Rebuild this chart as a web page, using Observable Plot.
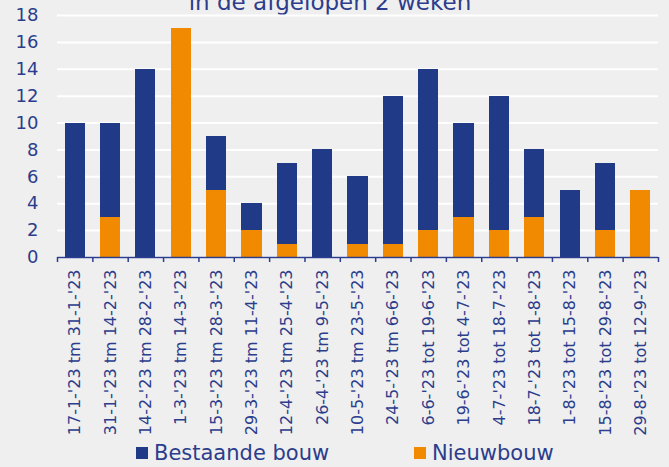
<!DOCTYPE html>
<html>
<head>
<meta charset="utf-8">
<script src="https://cdn.jsdelivr.net/npm/d3@7"></script>
<script src="https://cdn.jsdelivr.net/npm/@observablehq/plot@0.6"></script>
<style>
  html, body { margin: 0; padding: 0; background: #efefef; }
  body { width: 669px; height: 467px; overflow: hidden; position: relative; font-family: "DejaVu Sans", sans-serif; color: #2b3d8c; }
  #title { position: absolute; left: 0; width: 660px; top: -9px; text-align: center; font-size: 23px; line-height: 23px; white-space: nowrap; }
  #chart { position: absolute; left: 0; top: 0; }
  #legend { position: absolute; left: 0; top: 441px; width: 669px; height: 26px; font-size: 21px; line-height: 24px; }
  .item { position: absolute; top: 0; display: flex; align-items: center; gap: 6px; }
  .sw { width: 12px; height: 12px; display: inline-block; }
</style>
</head>
<body>
<div id="title">in de afgelopen 2 weken</div>
<div id="chart"></div>
<div id="legend"></div>
<script>
const categories = [
  "17-1-'23 tm 31-1-'23", "31-1-'23 tm 14-2-'23", "14-2-'23 tm 28-2-'23", "1-3-'23 tm 14-3-'23",
  "15-3-'23 tm 28-3-'23", "29-3-'23 tm 11-4-'23", "12-4-'23 tm 25-4-'23", "26-4-'23 tm 9-5-'23",
  "10-5-'23 tm 23-5-'23", "24-5-'23 tm 6-6-'23", "6-6-'23 tot 19-6-'23", "19-6-'23 tot 4-7-'23",
  "4-7-'23 tot 18-7-'23", "18-7-'23 tot 1-8-'23", "1-8-'23 tot 15-8-'23", "15-8-'23 tot 29-8-'23",
  "29-8-'23 tot 12-9-'23"
];
const bestaandeBouw = [10, 7, 14, 0, 4, 2, 6, 8, 5, 11, 12, 7, 10, 5, 5, 5, 0];
const nieuwbouw     = [0, 3, 0, 17, 5, 2, 1, 0, 1, 1, 2, 3, 2, 3, 0, 2, 5];
const seriesNames = ["Bestaande bouw", "Nieuwbouw"];
const seriesColors = ["#203a87", "#f18a00"];
const yTicks = [0, 2, 4, 6, 8, 10, 12, 14, 16, 18];

const data = categories.flatMap((c, i) => [
  {periode: c, type: "Nieuwbouw", value: nieuwbouw[i]},
  {periode: c, type: "Bestaande bouw", value: bestaandeBouw[i]}
]);

const W = 669, ML = 57, MR = 11;
const halfStep = (W - ML - MR) / categories.length / 2;
const axisBlue = "#2b3d8c";

const chart = Plot.plot({
  width: W,
  height: 440,
  marginTop: 15,
  marginBottom: 183,
  marginLeft: ML,
  marginRight: MR,
  style: {background: "transparent", fontFamily: "DejaVu Sans, sans-serif", color: axisBlue},
  x: {domain: categories, paddingInner: 0.43, paddingOuter: 0.215, round: false, label: null},
  y: {domain: [0, 18], label: null},
  color: {domain: seriesNames, range: seriesColors},
  marks: [
    Plot.gridY({ticks: yTicks, stroke: "#ffffff", strokeOpacity: 1, strokeWidth: 2}),
    Plot.axisY({ticks: yTicks, tickSize: 0, tickPadding: 19, fontSize: 18, label: null}),
    Plot.barY(data, {x: "periode", y: "value", fill: "type", order: ["Nieuwbouw", "Bestaande bouw"], shapeRendering: "crispEdges"}),
    Plot.ruleY([0], {stroke: axisBlue, strokeWidth: 1.5}),
    Plot.ruleX(categories, {x: d => d, y1: 0, y2: 0, insetBottom: -5, dx: -halfStep, stroke: axisBlue, strokeWidth: 1.5}),
    Plot.ruleX(categories.slice(-1), {x: d => d, y1: 0, y2: 0, insetBottom: -5, dx: halfStep, stroke: axisBlue, strokeWidth: 1.5}),
    Plot.axisX({tickRotate: -90, tickSize: 0, tickPadding: 12, fontSize: 16, label: null})
  ]
});
document.getElementById("chart").append(chart);

const legend = document.getElementById("legend");
const legendLeft = [136, 414];
seriesNames.forEach((name, i) => {
  const item = document.createElement("div");
  item.className = "item";
  item.style.left = legendLeft[i] + "px";
  const sw = document.createElement("span");
  sw.className = "sw";
  sw.style.background = seriesColors[i];
  const label = document.createElement("span");
  label.textContent = name;
  item.append(sw, label);
  legend.append(item);
});
</script>
</body>
</html>
